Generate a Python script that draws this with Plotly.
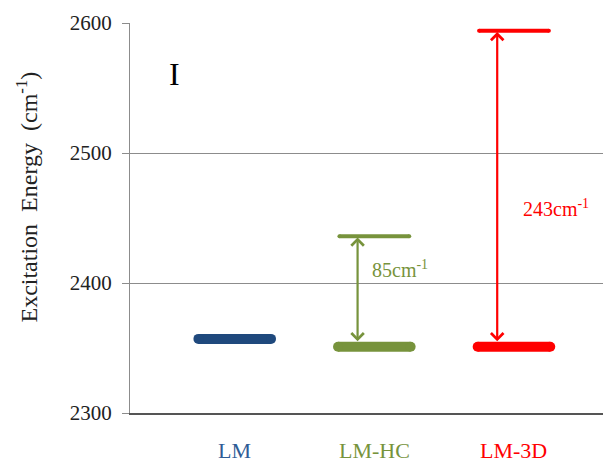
import plotly.graph_objects as go

categories = ["LM", "LM-HC", "LM-3D"]
cat_pos = [1, 2, 3]
lower_levels = [2357, 2351, 2351]
upper_levels = [None, 2436, 2594]
gap_labels = [None, "85cm<sup>-1</sup>", "243cm<sup>-1</sup>"]
colors = ["#1F497D", "#77933C", "#FF0000"]
label_colors = ["#2E5C96", "#77933C", "#FF0000"]
y_ticks = [2300, 2400, 2500, 2600]

FONT = "Liberation Serif"
fig = go.Figure()

half = 0.26
for i, c in enumerate(cat_pos):
    col = colors[i]
    fig.add_trace(go.Scatter(
        x=[c - half, c + half], y=[lower_levels[i]] * 2, mode="lines+markers",
        line=dict(color=col, width=10), marker=dict(color=col, size=10),
        showlegend=False, hoverinfo="skip"))
    if upper_levels[i] is not None:
        fig.add_trace(go.Scatter(
            x=[c - half + 0.01, c + half - 0.01], y=[upper_levels[i]] * 2, mode="lines+markers",
            line=dict(color=col, width=4), marker=dict(color=col, size=4),
            showlegend=False, hoverinfo="skip"))
        ax_x = c - 0.12
        fig.add_annotation(
            x=ax_x, y=upper_levels[i] - 1, ax=ax_x, ay=lower_levels[i] + 3,
            xref="x", yref="y", axref="x", ayref="y", text="",
            showarrow=True, arrowside="end+start", arrowhead=4, startarrowhead=4,
            arrowsize=1.1, startarrowsize=1.1, arrowwidth=2.2, arrowcolor=col,
            standoff=0, startstandoff=0)
        mid = (upper_levels[i] + lower_levels[i]) / 2
        fig.add_annotation(
            x=c + 0.05 - (0.08 if i == 1 else 0), y=mid + (17 if i == 1 else -15),
            xref="x", yref="y", text=gap_labels[i], showarrow=False,
            xanchor="left", yanchor="middle",
            font=dict(family=FONT, size=20, color=col))

for i, c in enumerate(cat_pos):
    fig.add_annotation(x=c, y=-0.095, xref="x", yref="paper", text=categories[i],
                       showarrow=False, xanchor="center", yanchor="middle", borderpad=0,
                       font=dict(family=FONT, size=22, color=label_colors[i]))

fig.add_annotation(x=0.57, y=2561, xref="x", yref="y", text="I", showarrow=False,
                   font=dict(family=FONT, size=32, color="black"))

fig.add_annotation(x=-0.215, y=0.554, xref="paper", yref="paper",
                   text="Excitation  Energy  (cm<sup>-1</sup>)", textangle=-90,
                   showarrow=False, xanchor="center", yanchor="middle", borderpad=0,
                   font=dict(family=FONT, size=24, color="#222"))

# page body has an 8px margin: figure is 603x455 placed at (8, 8)
fig.update_layout(
    width=603, height=455, plot_bgcolor="white", paper_bgcolor="white",
    font=dict(family=FONT, color="#222"),
    margin=dict(l=122, r=0, t=15, b=50),
    xaxis=dict(range=[0.25, 3.695], showgrid=False, zeroline=False,
               showticklabels=False, showline=True, linecolor="#555", linewidth=1.5,
               fixedrange=True),
    yaxis=dict(range=[2300, 2600], tickvals=y_ticks, showgrid=True,
               gridcolor="#8c8c8c", gridwidth=1, zeroline=False,
               showline=True, linecolor="#8c8c8c", ticks="outside", ticklen=7,
               tickcolor="#8c8c8c",
               tickfont=dict(family=FONT, size=21, color="#222"), ticklabelstandoff=6),
)

fig.write_html("out.html")
